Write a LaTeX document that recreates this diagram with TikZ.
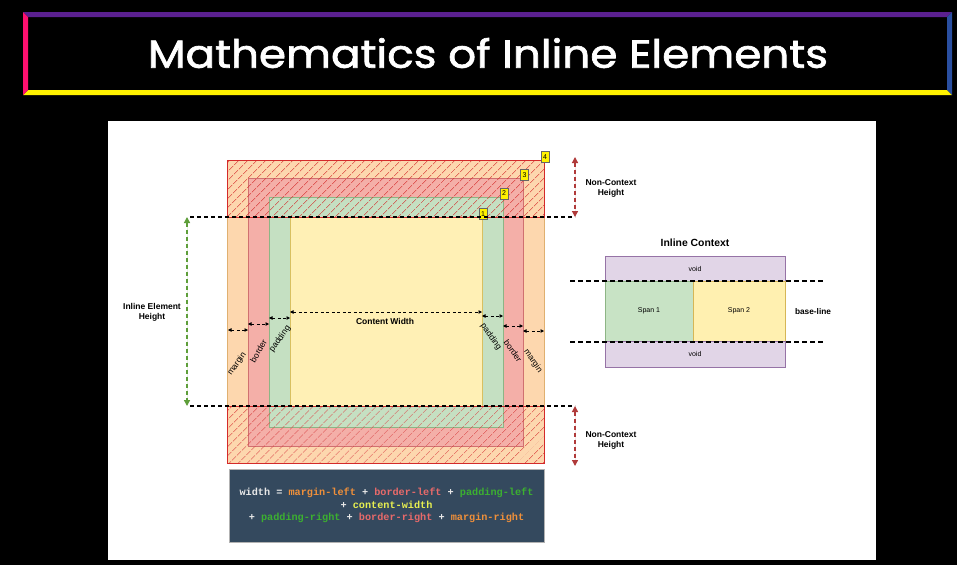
\documentclass[tikz,border=0pt]{standalone}
\usepackage{fontspec}
\setmainfont{Liberation Sans}
\setmonofont{Liberation Mono}
\newfontfamily\titlefont{Poppins}[FakeBold=1.6]
\usetikzlibrary{arrows.meta,patterns.meta}
\definecolor{tpurple}{HTML}{5B2090}
\definecolor{tpink}{HTML}{FF1070}
\definecolor{tyellow}{HTML}{FFF200}
\definecolor{tblue}{HTML}{2A4FA0}
\definecolor{orgf}{HTML}{FDD7AE}
\definecolor{orgd}{HTML}{E0B070}
\definecolor{redf}{HTML}{F4AFA8}
\definecolor{redd}{HTML}{D07070}
\definecolor{grnf}{HTML}{C5E0C2}
\definecolor{grnd}{HTML}{8DB585}
\definecolor{yelf}{HTML}{FFF0B5}
\definecolor{yeld}{HTML}{D8C060}
\definecolor{hatch}{HTML}{D42A2A}
\definecolor{darkred}{HTML}{B03A3A}
\definecolor{arrgreen}{HTML}{5E9E3A}
\definecolor{codebg}{HTML}{34495E}
\definecolor{cwhite}{HTML}{E8E8E8}
\definecolor{corange}{HTML}{F0903A}
\definecolor{cred}{HTML}{E86A6A}
\definecolor{cgreen}{HTML}{3CB030}
\definecolor{cyellow}{HTML}{E8F050}
\definecolor{voidf}{HTML}{E1D5E7}
\definecolor{voidd}{HTML}{9673A6}
\definecolor{spang}{HTML}{C8E3C5}
\definecolor{spany}{HTML}{FFF0B0}
\definecolor{spanyd}{HTML}{D6B656}
\tikzset{
  boxnode/.style={inner sep=0pt, outer sep=0pt, line width=0.8pt},
  hatchbox/.style={inner sep=0pt, outer sep=0pt, draw=hatch, line width=1pt,
    pattern={Lines[angle=45,distance=6.5pt,line width=0.7pt]}, pattern color=hatch},
  numbox/.style={fill=yellow, draw=black!60, line width=0.3pt, inner sep=0.8pt,
    minimum width=8pt, minimum height=11pt, font=\fontsize{7}{8}\selectfont},
  guide/.style={line width=1.3pt, dash pattern=on 4pt off 3pt},
  dimarrow/.style={line width=0.7pt, dash pattern=on 3pt off 2.5pt,
    {Triangle[length=3.5pt,width=3.5pt]}-{Triangle[length=3.5pt,width=3.5pt]}},
  bigarrow/.style={line width=1.3pt, dash pattern=on 4pt off 3pt,
    {Triangle[length=6pt,width=6pt]}-{Triangle[length=6pt,width=6pt]}},
  lbl/.style={font=\bfseries\fontsize{8.5}{10}\selectfont, align=center},
  striplbl/.style={font=\fontsize{8.5}{10}\selectfont, inner sep=1pt},
  voidbox/.style={fill=voidf, draw=voidd, line width=0.8pt, inner sep=0pt,
    minimum width=180pt, font=\fontsize{7}{8}\selectfont},
}
\begin{document}
\begin{tikzpicture}[x=1pt,y=-1pt]
\useasboundingbox (0,0) rectangle (957,565);
\fill[black] (0,0) rectangle (957,565);
% title frame
\fill[tpurple] (23,12) -- (952,12) -- (947,17) -- (28,17) -- cycle;
\fill[tyellow] (23,95) -- (952,95) -- (947,90) -- (28,90) -- cycle;
\fill[tpink] (23,12) -- (28,17) -- (28,90) -- (23,95) -- cycle;
\fill[tblue] (952,12) -- (947,17) -- (947,90) -- (952,95) -- cycle;
\node[text=white, xscale=1.12, font=\titlefont\fontsize{39}{40}\selectfont] (title) at (488,53) {Mathematics of Inline Elements};
% white panel
\fill[white] (108,121) rectangle (876,560);
% box model
\node[boxnode, fill=orgf, draw=orgd, minimum width=317pt, minimum height=303pt] (marginbox) at (385.5,311.5) {};
\node[boxnode, fill=redf, draw=redd, minimum width=275pt, minimum height=268pt] (borderbox) at (385.5,312) {};
\node[boxnode, fill=grnf, draw=grnd, minimum width=234pt, minimum height=230pt] (paddingbox) at (386,312) {};
\node[boxnode, fill=yelf, draw=yeld, minimum width=192pt, minimum height=189pt] (contentbox) at (386,311.5) {};
\node[hatchbox, minimum width=317pt, minimum height=57pt] (hatchtop) at (385.5,188.5) {};
\node[hatchbox, minimum width=317pt, minimum height=57pt] (hatchbot) at (385.5,434.5) {};
% number tags
\node[numbox] (n4) at (545,157) {4};
\node[numbox] (n3) at (524.5,175) {3};
\node[numbox] (n2) at (504,193.5) {2};
\node[numbox] (n1) at (483,214) {1};
% guide lines
\coordinate (gtl) at (190,217);
\coordinate (gtr) at (575,217);
\coordinate (gbl) at (190,406);
\coordinate (gbr) at (575,406);
\draw[guide] (gtl) -- (gtr);
\draw[guide] (gbl) -- (gbr);
% inline element height
\coordinate (ha) at (187,217);
\coordinate (hb) at (187,406);
\draw[bigarrow, draw=arrgreen, fill=arrgreen] (ha) -- (hb);
\node[lbl] (ielbl) at (152,312) {Inline Element\\Height};
% non-context heights
\coordinate (nta) at (575,157);
\coordinate (ntb) at (575,217);
\draw[bigarrow, draw=darkred, fill=darkred] (nta) -- (ntb);
\node[lbl] (nclbl1) at (611,188) {Non-Context\\Height};
\coordinate (nba) at (575,406);
\coordinate (nbb) at (575,466);
\draw[bigarrow, draw=darkred, fill=darkred] (nba) -- (nbb);
\node[lbl] (nclbl2) at (611,440) {Non-Context\\Height};
% width arrows
\coordinate (ml1) at (228,330); \coordinate (ml2) at (248,330);
\coordinate (bl1) at (248,324); \coordinate (bl2) at (269,324);
\coordinate (pl1) at (269,318); \coordinate (pl2) at (290,318);
\coordinate (cw1) at (290,312); \coordinate (cw2) at (482,312);
\coordinate (pr1) at (482,316); \coordinate (pr2) at (503,316);
\coordinate (br1) at (503,326); \coordinate (br2) at (523,326);
\coordinate (mr1) at (523,331); \coordinate (mr2) at (544,331);
\foreach \a/\b in {ml1/ml2,bl1/bl2,pl1/pl2,cw1/cw2,pr1/pr2,br1/br2,mr1/mr2}
  \draw[dimarrow] (\a) -- (\b);
\node[lbl] (cwlbl) at (385,321.5) {Content Width};
\node[striplbl, rotate=55] (lmargin) at (237,364) {margin};
\node[striplbl, rotate=60] (lborder) at (258.5,351) {border};
\node[striplbl, rotate=55] (lpadding) at (280,339) {padding};
\node[striplbl, rotate=-55] (rpadding) at (491,337) {padding};
\node[striplbl, rotate=-55] (rborder) at (513,351) {border};
\node[striplbl, rotate=-55] (rmargin) at (533,361) {margin};
% code box
\node[fill=codebg, draw=black!30, line width=1pt, minimum width=315pt, minimum height=73pt, inner sep=0pt] (codebox) at (386.5,505.5) {};
\node[font=\ttfamily\bfseries\fontsize{10.2}{12.5}\selectfont, align=center, text=cwhite] (code) at (386.5,505.5) {%
width = \textcolor{corange}{margin-left} + \textcolor{cred}{border-left} + \textcolor{cgreen}{padding-left}\\
+ \textcolor{cyellow}{content-width}\\
+ \textcolor{cgreen}{padding-right} + \textcolor{cred}{border-right} + \textcolor{corange}{margin-right}};
% inline context
\node[font=\bfseries\fontsize{10.4}{12}\selectfont] (ictitle) at (695,243) {Inline Context};
\node[voidbox, minimum height=25pt] (voidtop) at (695,268.5) {void};
\node[fill=spang, draw=grnd, line width=0.8pt, inner sep=0pt, minimum width=88pt, minimum height=60pt, font=\fontsize{7}{8}\selectfont] (span1) at (649,311) {Span 1};
\node[fill=spany, draw=spanyd, line width=0.8pt, inner sep=0pt, minimum width=92pt, minimum height=60pt, font=\fontsize{7}{8}\selectfont] (span2) at (739,311) {Span 2};
\node[voidbox, minimum height=26pt] (voidbot) at (695,354) {void};
\coordinate (bt1) at (570,281); \coordinate (bt2) at (823,281);
\coordinate (bb1) at (570,342); \coordinate (bb2) at (823,342);
\draw[guide, line width=1.5pt, dash pattern=on 5pt off 3pt] (bt1) -- (bt2);
\draw[guide, line width=1.5pt, dash pattern=on 5pt off 3pt] (bb1) -- (bb2);
\node[lbl, font=\bfseries\fontsize{8.3}{10}\selectfont] (baselbl) at (813,311.5) {base-line};
\end{tikzpicture}
\end{document}
